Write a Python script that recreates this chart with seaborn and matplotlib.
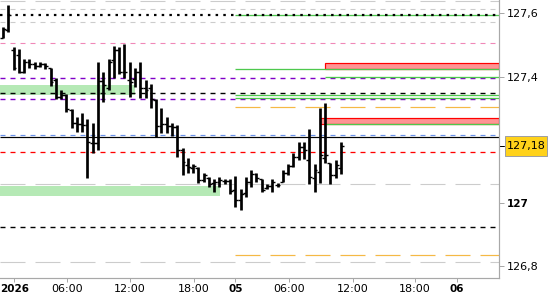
import matplotlib
matplotlib.use("Agg")
import matplotlib.pyplot as plt
import seaborn as sns
from matplotlib.patches import Rectangle
from matplotlib.transforms import blended_transform_factory

# ---------------- data ----------------
bar_index = list(range(65))
opens = [127.522,127.548,127.484,127.468,127.415,127.446,127.440,127.434,127.440,127.427,
         127.389,127.336,127.342,127.294,127.253,127.250,127.247,127.190,127.190,127.386,
         127.364,127.453,127.484,127.415,127.389,127.393,127.415,127.364,127.364,127.326,
         127.244,127.250,127.244,127.241,127.168,127.120,127.111,127.111,127.073,127.079,
         127.063,127.066,127.070,127.070,127.041,127.009,127.032,127.066,127.092,127.076,
         127.047,127.054,127.057,127.066,127.095,127.117,127.146,127.177,127.136,127.079,
         127.098,127.142,127.127,127.089,127.111]
highs = [127.557,127.627,127.494,127.488,127.456,127.456,127.446,127.446,127.443,127.427,
         127.396,127.358,127.345,127.298,127.272,127.285,127.266,127.253,127.446,127.415,
         127.456,127.497,127.494,127.503,127.446,127.427,127.446,127.389,127.377,127.329,
         127.301,127.272,127.253,127.247,127.174,127.142,127.123,127.114,127.095,127.082,
         127.076,127.082,127.076,127.076,127.085,127.044,127.082,127.104,127.095,127.076,
         127.060,127.076,127.063,127.104,127.123,127.158,127.193,127.193,127.234,127.123,
         127.301,127.317,127.127,127.136,127.193]
lows = [127.522,127.541,127.421,127.412,127.412,127.427,127.424,127.431,127.424,127.370,
        127.329,127.329,127.288,127.237,127.225,127.225,127.079,127.158,127.168,127.320,
        127.358,127.396,127.408,127.396,127.336,127.367,127.332,127.332,127.301,127.209,
        127.222,127.222,127.212,127.146,127.089,127.095,127.095,127.063,127.066,127.051,
        127.035,127.051,127.060,127.028,126.987,126.978,127.019,127.051,127.066,127.035,
        127.044,127.035,127.051,127.066,127.089,127.114,127.136,127.139,127.060,127.035,
        127.063,127.127,127.060,127.079,127.092]
closes = [127.551,127.595,127.427,127.415,127.446,127.440,127.434,127.440,127.434,127.383,
          127.336,127.342,127.298,127.253,127.250,127.247,127.193,127.190,127.386,127.374,
          127.446,127.484,127.415,127.415,127.383,127.415,127.364,127.358,127.329,127.244,
          127.250,127.244,127.241,127.168,127.130,127.114,127.117,127.073,127.089,127.060,
          127.066,127.073,127.070,127.038,127.009,127.028,127.066,127.092,127.079,127.041,
          127.054,127.066,127.057,127.095,127.117,127.146,127.177,127.168,127.082,127.104,
          127.152,127.152,127.089,127.120,127.180]

tick_bars = [2.14, 12.06, 24.05, 36.2, 44, 54.2, 66.2, 78, 86]
tick_labels = ["2026", "06:00", "12:00", "18:00", "05", "06:00", "12:00", "18:00", "06"]
bold_labels = ["2026", "05", "06", "127"]

price_ticks = [126.8, 127.0, 127.4, 127.6]
price_labels = ["126,8", "127", "127,4", "127,6"]

# full-width level lines
gray_long_levels = [127.641, 127.060, 126.812]
gray_short_levels = [127.613, 127.572]
dotted_levels = [127.595]
pink_levels = [127.506]
purple_levels = [127.395, 127.328]
black_dash_levels = [127.347, 126.923]
blue_levels = [127.214]
black_solid_levels = [127.208]
red_dash_levels = [127.161]

# levels starting at the session open (bar 44)
session_start = 44
green_session_levels = [127.596, 127.423, 127.343, 127.331]
orange_session_levels = [127.303, 126.834]
# later levels / zones
late_start = 61
green_late_levels = [127.398, 127.249]
red_zones = [(127.423, 127.442, 61), (127.249, 127.268, 60)]
green_zones = [(127.342, 127.374, 25), (127.022, 127.054, 41.1)]

# ---------------- style ----------------
sns.set_theme(style="white")
plt.rcParams['font.family'] = ['DejaVu Sans']
plt.rcParams['lines.scale_dashes'] = False

PX = 0.72  # points per pixel at dpi 100

fig = plt.figure(figsize=(5.5, 3.0), dpi=100)
ax = fig.add_axes([0, 22.5 / 300, 499 / 550, 277.5 / 300])
ax.set_facecolor("white")
XL = (-0.57, 93.94)
ax.set_xlim(*XL)
ax.set_ylim(126.764, 127.6426)

dash = (0, (5 * PX, 5 * PX))
longdash = (0, (25 * PX, 10 * PX))
dotted = (0, (2.5 * PX, 5.2 * PX))

def hl(levels, color, ls, lw, start=None, z=2):
    x0 = XL[0] if start is None else start
    for p in levels:
        ax.plot([x0, XL[1]], [p, p], color=color, linestyle=ls, lw=lw * PX, zorder=z,
                solid_capstyle='butt', dash_capstyle='butt')

# zones
for lo, hi, end in green_zones:
    ax.fill_between([XL[0], end], lo, hi, color="#b5e9b5", lw=0, zorder=1)

hl(gray_long_levels, "#cccccc", longdash, 1.1)
hl(gray_short_levels, "#cccccc", dash, 1.1)
hl(pink_levels, "#f088b8", dash, 1.1)
hl(purple_levels, "#8000c8", dash, 1.4)
hl(black_dash_levels, "black", dash, 1.4)
hl(blue_levels, "#6a92ea", dash, 1.2)
hl(black_solid_levels, "black", '-', 1.2)
hl(red_dash_levels, "#ff0000", dash, 1.3)
hl(green_session_levels, "#4ec94e", '-', 1.3, start=session_start, z=2.2)
hl(orange_session_levels, "#f5b945", longdash, 1.2, start=session_start)
hl(green_late_levels, "#4ec94e", '-', 1.3, start=late_start, z=2.2)
hl(dotted_levels, "black", dotted, 2.2, z=2.4)

for lo, hi, start in red_zones:
    ax.add_patch(Rectangle((start, lo), XL[1] - start, hi - lo, facecolor="#ff9494",
                           edgecolor="#ff0000", lw=1.2 * PX, zorder=2.1))

# OHLC bars
ax.vlines(bar_index, lows, highs, color="black", lw=2.7 * PX, zorder=5)
ax.hlines(opens, [i - 0.55 for i in bar_index], bar_index, color="black", lw=1.4 * PX, zorder=5)
ax.hlines(closes, bar_index, [i + 0.55 for i in bar_index], color="black", lw=1.4 * PX, zorder=5)

# axes styling
for s in ["left", "top"]:
    ax.spines[s].set_visible(False)
for s in ["right", "bottom"]:
    ax.spines[s].set_color("#a8a8a8")
    ax.spines[s].set_linewidth(1.2 * PX)
ax.yaxis.tick_right()
ax.set_yticks(price_ticks)
ax.set_yticklabels(price_labels)
ax.set_xticks(tick_bars)
ax.set_xticklabels(tick_labels)
ax.tick_params(axis='y', right=True, left=False, length=5 * PX, width=1 * PX,
               color="#a8a8a8", pad=3.3 * PX, labelsize=8, labelcolor="black")
ax.tick_params(axis='x', bottom=True, length=3.5 * PX, width=1 * PX,
               color="#a8a8a8", pad=2.5 * PX, labelsize=8, labelcolor="black")
for t in ax.get_xticklabels() + ax.get_yticklabels():
    if t.get_text() in bold_labels:
        t.set_fontweight("bold")
        t.set_fontsize(7.5)
ax.grid(False)

# last price marker
last = closes[-1]
tr = blended_transform_factory(ax.transAxes, ax.transData)
ax.plot([1.0, 1.01], [last, last], transform=tr, color="black", lw=1 * PX, clip_on=False)
ax.add_patch(Rectangle((1.0126, last - 0.0323), 0.0842, 0.0655, transform=tr,
                       facecolor="#ffd21a", edgecolor="#a0a0a0", lw=1 * PX, clip_on=False, zorder=6))
ax.text(1.0547, last, f"{last:.2f}".replace('.', ','), transform=tr, ha='center', va='center',
        fontsize=8, color="black", zorder=7, clip_on=False)

fig.savefig("out.png", dpi=100)
